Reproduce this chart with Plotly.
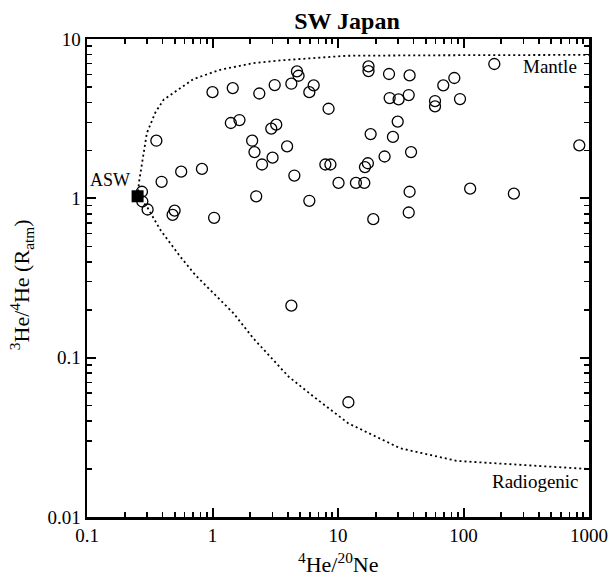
import plotly.graph_objects as go

# Sample data: 4He/20Ne and 3He/4He (R/Ratm)
he_ne = [1.0, 1.45, 2.36, 3.13, 4.25, 4.71, 4.85, 6.4, 5.91, 8.41,
         0.357, 1.40, 1.64, 2.94, 3.22, 2.07, 3.93, 2.16, 3.01, 2.48,
         4.49, 7.93, 8.7, 10.1, 0.393, 0.563, 0.824, 0.274, 0.276, 0.304,
         0.499, 0.481, 1.03, 2.23, 5.91,
         17.5, 17.5, 25.5, 37.2, 176, 84.5, 69, 25.8, 30.4, 36.6,
         59.3, 59.3, 93.8, 29.9, 18.2, 27.4, 837, 38.2, 23.5, 17.3,
         16.4, 13.9, 16.2, 37.2, 113, 252, 36.6, 19.1, 4.25, 12.1]
r_ratm = [4.64, 4.92, 4.55, 5.14, 5.24, 6.26, 5.88, 5.12, 4.64, 3.65,
          2.30, 2.97, 3.10, 2.74, 2.90, 2.30, 2.12, 1.95, 1.80, 1.63,
          1.39, 1.63, 1.63, 1.25, 1.27, 1.47, 1.53, 1.10, 0.955, 0.851,
          0.838, 0.787, 0.755, 1.03, 0.965,
          6.73, 6.29, 6.03, 5.91, 6.97, 5.69, 5.12, 4.26, 4.18, 4.45,
          4.08, 3.78, 4.20, 3.03, 2.53, 2.43, 2.15, 1.95, 1.83, 1.66,
          1.57, 1.25, 1.25, 1.10, 1.15, 1.07, 0.815, 0.74, 0.212, 0.0525]

# ASW end-member
asw_x = [0.253]
asw_y = [1.03]

# Mixing curves
mantle_x = [0.253, 0.26, 0.30, 0.35, 0.408, 0.553, 0.707, 1.15, 2.12, 3.47, 11.8, 50, 200, 1000]
mantle_y = [1.03, 1.27, 2.57, 3.45, 4.16, 4.92, 5.61, 6.41, 7.06, 7.34, 7.85, 7.9, 7.95, 7.95]
radio_x = [0.253, 0.300, 0.384, 0.553, 0.73, 1.02, 1.47, 2.12, 3.07, 4.04, 6.4, 9.82, 12.1,
           31.3, 88.7, 185, 1000]
radio_y = [1.03, 0.888, 0.634, 0.431, 0.33, 0.254, 0.190, 0.132, 0.0968, 0.076, 0.0569, 0.0437,
           0.0387, 0.027, 0.0225, 0.0217, 0.020]

x_tickvals = [0.1, 1, 10, 100, 1000]
x_ticktext = ["0.1", "1", "10", "100", "1000"]
y_tickvals = [0.01, 0.1, 1, 10]
y_ticktext = ["0.01", "0.1", "1", "10"]

FONT = "Liberation Serif"

fig = go.Figure()
fig.add_trace(go.Scatter(x=mantle_x, y=mantle_y, mode="lines",
                         line=dict(color="black", width=1.8, dash="2px,3px"),
                         hoverinfo="skip", showlegend=False))
fig.add_trace(go.Scatter(x=radio_x, y=radio_y, mode="lines",
                         line=dict(color="black", width=1.8, dash="2px,3px"),
                         hoverinfo="skip", showlegend=False))
fig.add_trace(go.Scatter(x=he_ne, y=r_ratm, mode="markers",
                         marker=dict(symbol="circle-open", size=11, color="black",
                                     line=dict(width=1.3, color="black")),
                         showlegend=False))
fig.add_trace(go.Scatter(x=asw_x, y=asw_y, mode="markers",
                         marker=dict(symbol="square", size=12, color="black"),
                         showlegend=False))

minor_x = [m * 10 ** e for e in range(-1, 3) for m in range(2, 10)]
minor_y = [m * 10 ** e for e in range(-2, 1) for m in range(2, 10)]

axis_common = dict(type="log", showline=True, linecolor="black", linewidth=2.5,
                   mirror="allticks", ticks="inside", ticklen=9, tickwidth=2,
                   tickcolor="black", showgrid=False, zeroline=False, automargin=False,
                   tickfont=dict(family=FONT, size=19, color="black"))

fig.update_xaxes(range=[-1, 3], tickmode="array", tickvals=x_tickvals, ticktext=x_ticktext,
                 minor=dict(ticks="inside", ticklen=5, tickwidth=1.6, tickcolor="black",
                            tickmode="array", tickvals=minor_x, showgrid=False),
                 **axis_common)
fig.update_yaxes(range=[-2, 1], tickmode="array", tickvals=y_tickvals, ticktext=y_ticktext,
                 minor=dict(ticks="inside", ticklen=5, tickwidth=1.6, tickcolor="black",
                            tickmode="array", tickvals=minor_y, showgrid=False),
                 **axis_common)

# Axis titles
fig.add_annotation(x=0.5, y=-0.096, xref="paper", yref="paper",
                   text="<sup>4</sup>He/<sup>20</sup>Ne", showarrow=False,
                   xanchor="center", yanchor="middle",
                   font=dict(family=FONT, size=22, color="black"))
fig.add_annotation(x=-0.1315, y=0.487, xref="paper", yref="paper",
                   text="<sup>3</sup>He/<sup>4</sup>He (R<sub>atm</sub>)", showarrow=False,
                   textangle=-90, xanchor="center", yanchor="middle",
                   font=dict(family=FONT, size=22, color="black"))

# Labels
fig.add_annotation(x=-0.641, y=0.116, xref="x", yref="y", text="ASW", showarrow=False,
                   xanchor="right", yanchor="middle",
                   font=dict(family=FONT, size=18, color="black"))
fig.add_annotation(x=2.923, y=0.828, xref="x", yref="y", text="Mantle", showarrow=False,
                   xanchor="right", yanchor="middle",
                   font=dict(family=FONT, size=19, color="black"))
fig.add_annotation(x=2.936, y=-1.779, xref="x", yref="y", text="Radiogenic", showarrow=False,
                   xanchor="right", yanchor="middle",
                   font=dict(family=FONT, size=19, color="black"))

fig.update_layout(
    template="none",
    width=608, height=576,
    margin=dict(l=87, r=19, t=39, b=59, autoexpand=False),
    paper_bgcolor="white", plot_bgcolor="white",
    title=dict(text="<b>SW Japan</b>", x=347 / 608, xref="container", xanchor="center",
               y=1 - 21 / 576, yref="container", yanchor="middle",
               font=dict(family=FONT, size=24, color="black")),
    showlegend=False,
)

fig.write_html("out.html",
               config={"displayModeBar": False, "staticPlot": True},
               post_script="document.body.style.margin='0';document.body.style.overflow='hidden';")
